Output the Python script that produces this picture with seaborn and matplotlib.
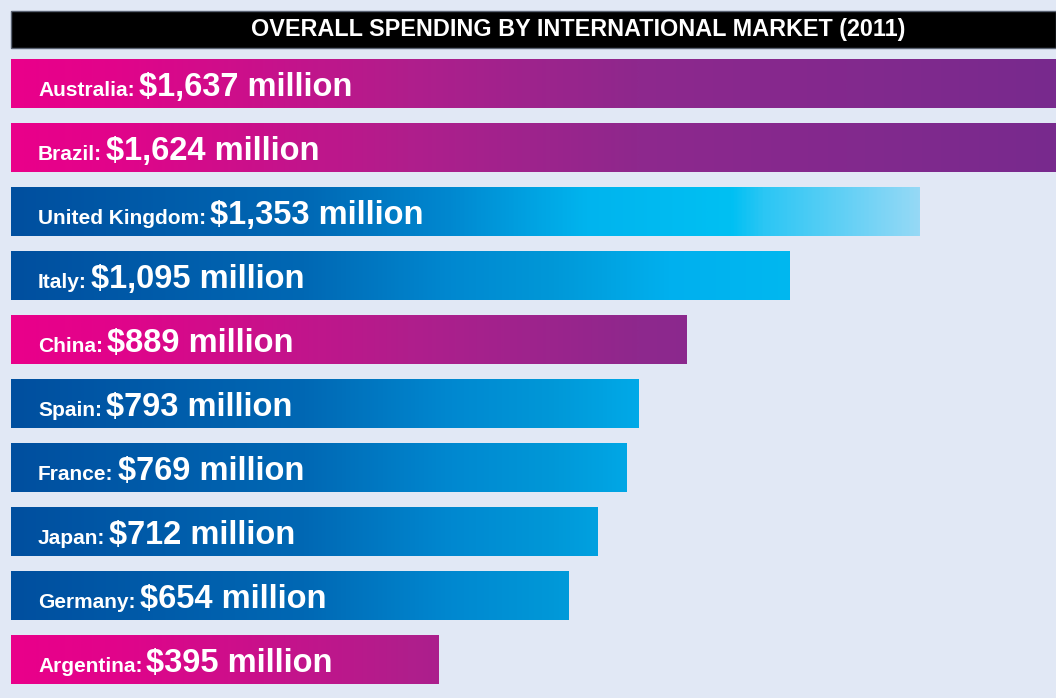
import numpy as np
import pandas as pd
import matplotlib
matplotlib.use("Agg")
import matplotlib.pyplot as plt
from matplotlib.colors import LinearSegmentedColormap
from matplotlib.patches import Rectangle
import seaborn as sns

# data
countries = ["Australia", "Brazil", "United Kingdom", "Italy", "China",
             "Spain", "France", "Japan", "Germany", "Argentina"]
spending = [1637, 1624, 1353, 1095, 889, 793, 769, 712, 654, 395]
value_labels = ["$1,637 million", "$1,624 million", "$1,353 million",
                "$1,095 million", "$889 million", "$793 million",
                "$769 million", "$712 million", "$654 million", "$395 million"]
bar_group = ["purple", "purple", "uk", "blue", "purple",
             "blue", "blue", "blue", "blue", "purple"]
title = "OVERALL SPENDING BY INTERNATIONAL MARKET (2011)"

# the bars start from a truncated baseline, not zero
BASE = -457
XMAX = 1625

BG = "#e1e8f5"

sns.set_theme(style="white")
plt.rcParams["font.family"] = ["Liberation Sans", "DejaVu Sans"]

df = pd.DataFrame({"country": countries, "spending": spending})
df["length"] = df["spending"] - BASE

fig = plt.figure(figsize=(10.56, 6.98), dpi=100, facecolor=BG)
W, H = 1056, 698

# axes area in pixels: left 11, rows 64px apart starting at 51.5
ax = fig.add_axes([11 / W, 1 - 691.5 / H, 1 - 11 / W, 640 / H])
ax.set_facecolor(BG)

sns.barplot(data=df, x="length", y="country", orient="h", width=49 / 64,
            color="#888888", linewidth=0, edgecolor="none", ax=ax)
ax.set_xlim(0, XMAX - BASE)
ax.set_ylim(9.5, -0.5)
ax.axis("off")

cmaps = {
    "purple": LinearSegmentedColormap.from_list("pu", [
        (0.0, "#ea008a"), (0.1, "#e1048a"), (0.38, "#b01e8c"),
        (0.6, "#8e288d"), (1.0, "#782a8e")]),
    "blue": LinearSegmentedColormap.from_list("bl", [
        (0.0, "#004f9f"), (0.28, "#0068b4"), (0.42, "#0088d0"),
        (0.52, "#0098d8"), (0.63, "#00b0ee"), (0.75, "#00b8f0"),
        (1.0, "#00bcf2")]),
    "uk": LinearSegmentedColormap.from_list("uk", [
        (0.0, "#004f9f"), (0.28, "#0068b4"), (0.42, "#0088d0"),
        (0.55, "#00b4ee"), (0.69, "#00c0f3"), (0.72, "#2ac6f4"),
        (0.87, "#96d9f6"), (1.0, "#b0e2f8")]),
}

grad = np.linspace(0, 1, 512).reshape(1, -1)
for patch, grp in zip(ax.patches, bar_group):
    y0 = patch.get_y()
    h = patch.get_height()
    im = ax.imshow(grad, cmap=cmaps[grp], aspect="auto",
                   extent=(0, XMAX - BASE, y0 + h, y0), zorder=3,
                   interpolation="bilinear")
    im.set_clip_path(patch)
ax.set_xlim(0, XMAX - BASE)
ax.set_ylim(9.5, -0.5)

renderer = fig.canvas.get_renderer()
for i, (name, val) in enumerate(zip(countries, value_labels)):
    lab = ax.annotate(name + ":", xy=(0, i), xytext=(27, -12.5),
                      textcoords="offset pixels", va="baseline", ha="left",
                      color="white", fontsize=15, fontweight="bold", zorder=5)
    w = lab.get_window_extent(renderer).width
    ax.annotate(val, xy=(0, i), xytext=(27 + w + 4, -12.5),
                textcoords="offset pixels", va="baseline", ha="left",
                color="white", fontsize=23.5, fontweight="bold", zorder=5)

# title banner
fig.patches.append(Rectangle((11 / W, 1 - 48 / H), 1 - 11 / W, 37 / H,
                             transform=fig.transFigure, facecolor="black",
                             edgecolor="#5a6272", linewidth=1))
fig.text(578 / W, 1 - 29.5 / H, title, ha="center", va="center",
         color="white", fontsize=16.8, fontweight="bold")

fig.savefig("out.png", dpi=100, facecolor=BG)
